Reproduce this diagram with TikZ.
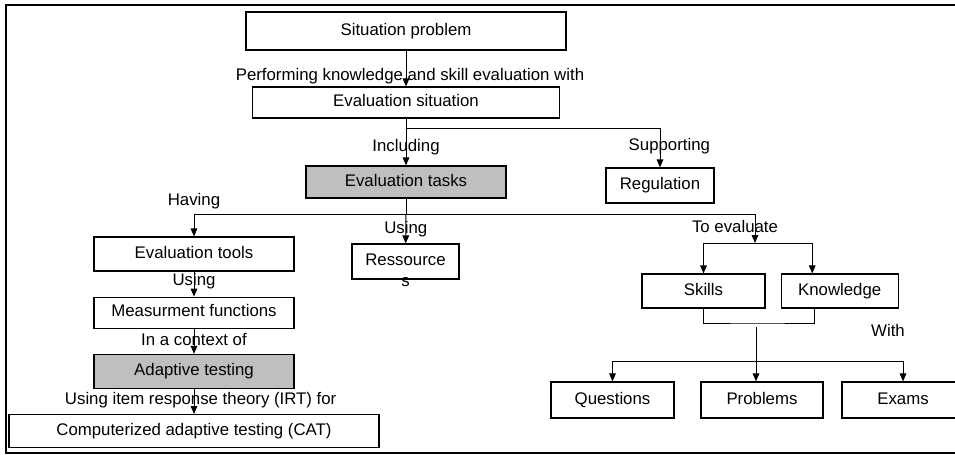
\documentclass[tikz,border=0pt]{standalone}
\usepackage{fontspec}
\setmainfont{Liberation Sans}
\usetikzlibrary{positioning,arrows.meta}

\begin{document}
\begin{tikzpicture}[>={Triangle[length=6pt,width=5pt]},x=0.75pt,y=-0.75pt,
		every node/.style={font=\fontsize{12.6}{15.5}\selectfont},
		box/.style={shape=rectangle,draw,line width=0.9pt,inner sep=0pt,minimum width=150pt,minimum height=25.5pt,text height=1.5ex,text depth=.3ex},
		task/.style={box,fill=gray!50},
		link/.style={line width=0.75pt},
		node distance=18.75pt]
		\useasboundingbox (0,0) rectangle (955,454);
		
		% create the nodes
		\node[box,minimum width=240pt,minimum height=28.5pt] (sit) at (406,31) {Situation problem};
		\node[box,minimum width=230.25pt,minimum height=23.25pt] (evs) at (406,102.5) {Evaluation situation};
		\node[task,minimum height=24pt] (tasks) at (406,182) {Evaluation tasks};
		\node[box,minimum width=81pt,minimum height=26.25pt] (reg) at (660,185.5) {Regulation};
		\node[box] (tools) at (194,254) {Evaluation tools};
		\node[box,minimum height=23.25pt,below=of tools] (meas) {Measurment functions};
		\node[task,below=of meas] (adapt) {Adaptive testing};
		\node[box,minimum width=277.5pt,minimum height=24.75pt,below=of adapt] (cat) {Computerized adaptive testing (CAT)};
		\node[box,minimum width=80.25pt,minimum height=26.25pt,text depth=.3ex] (res) at (405.5,261.5) {\begin{tabular}[t]{@{}c@{}}Ressource\\s\end{tabular}};
		\node[box,minimum width=92.25pt] (skills) at (703.5,291) {Skills};
		\node[box,minimum width=87.75pt,right=11.25pt of skills] (know) {Knowledge};
		\node[box,minimum width=92.25pt,minimum height=27pt] (quest) at (612.5,400) {Questions};
		\node[box,minimum width=91.5pt,minimum height=27pt] (prob) at (762,400) {Problems};
		\node[box,minimum width=91.5pt,minimum height=27pt] (exams) at (903,400) {Exams};
		
		\coordinate (hub) at (406,214);
		\coordinate (evalhub) at (755,243);
		\coordinate (join) at (756,323);
		\coordinate (withhub) at (756,361);
		
		% connect the nodes
		\draw[->,link] (sit) -- node[pos=0.7,xshift=3pt]{Performing knowledge and skill evaluation with} (evs);
		\draw[->,link] (evs) -- node[pos=0.6]{Including} (tasks);
		\draw[->,link] (evs.south) ++(0,10) -| node[pos=0.725,xshift=7pt]{Supporting} (reg);
		\draw[link] (tasks) -- (hub);
		\draw[->,link] (hub) -| node[pos=0.5,above]{Having} (tools);
		\draw[->,link] (hub) -- node[pos=0.53]{Using} (res);
		\draw[->,link] (hub) -| node[pos=0.72,xshift=-15pt]{To evaluate} (evalhub);
		\draw[->,link] (evalhub) -| (skills);
		\draw[->,link] (evalhub) -| ([xshift=-20.6pt]know.north);
		\draw[link] (skills.south) |- (join) -| ([xshift=-19pt]know.south);
		\draw[link] ([yshift=-3pt]join) -- node[pos=0.1,xshift=99pt]{With} (withhub);
		\draw[->,link] (withhub) -| (quest);
		\draw[->,link] (withhub) -- (withhub |- prob.north);
		\draw[->,link] (withhub) -| (exams);
		
		\draw[->,link] (tools) -- node[pos=0.4]{Using} (meas);
		\draw[->,link] (meas) -- node[pos=0.44]{In a context of} (adapt);
		\draw[->,link] (adapt) -- node[pos=0.44,xshift=5pt]{Using item response theory (IRT) for} (cat);
		
		\draw[line width=1.5pt] (960,5) -- (6,5) -- (6,453) -- (960,453);
	\end{tikzpicture}
\end{document}
